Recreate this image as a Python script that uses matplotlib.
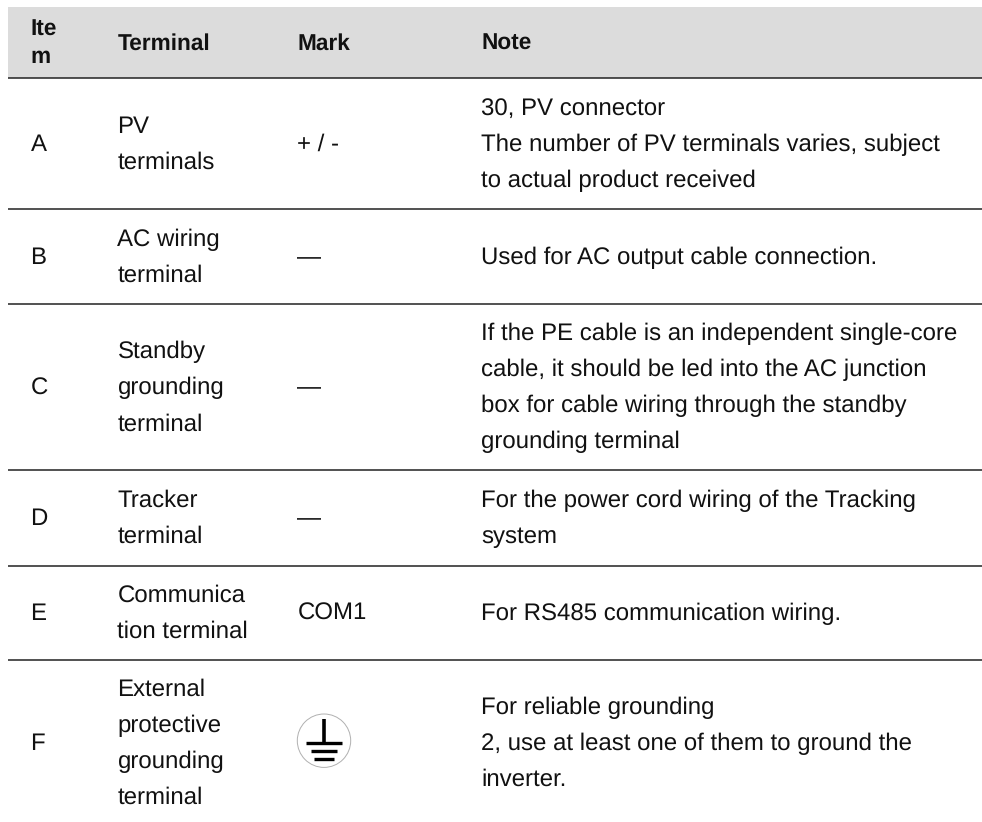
import matplotlib
matplotlib.use("Agg")
import matplotlib.pyplot as plt
from matplotlib.patches import Rectangle, Circle

W, H = 982, 822

headers = ["Ite\nm", "Terminal", "Mark", "Note"]
items = ["A", "B", "C", "D", "E", "F"]
terminals = [
    ["PV", "terminals"],
    ["AC wiring", "terminal"],
    ["Standby", "grounding", "terminal"],
    ["Tracker", "terminal"],
    ["Communica", "tion terminal"],
    ["External", "protective", "grounding", "terminal"],
]
marks = ["+ / -", "—", "—", "—", "COM1", ""]
notes = [
    ["30, PV connector", "The number of PV terminals varies, subject", "to actual product received"],
    ["Used for AC output cable connection."],
    ["If the PE cable is an independent single-core", "cable, it should be led into the AC junction",
     "box for cable wiring through the standby", "grounding terminal"],
    ["For the power cord wiring of the Tracking", "system"],
    ["For RS485 communication wiring."],
    ["For reliable grounding", "2, use at least one of them to ground the", "inverter."],
]
# last row runs off the bottom of the picture, so no rule is drawn for it
row_lines = [78, 209, 304, 470, 565.5, 659.5, 825]
col_x = [30.5, 117.5, 297.5, 481.5]
line_h = 36
base_off = 7.3

plt.rcParams['font.family'] = ['Liberation Sans', 'DejaVu Sans']
plt.rcParams['text.hinting'] = 'no_hinting'
fig = plt.figure(figsize=(W / 100, H / 100), dpi=100)
ax = fig.add_axes([0, 0, 1, 1])
ax.set_xlim(0, W)
ax.set_ylim(H, 0)
ax.axis('off')

FS = 17.25
FS_BOLD = 16.3
TXT = '#111111'

# header band
ax.add_patch(Rectangle((8, 7), W - 8, row_lines[0] - 7, facecolor='#dcdcdc', edgecolor='none'))
ax.text(col_x[0], 36, "Ite", fontsize=FS_BOLD, fontweight='bold', va='baseline', ha='left', color=TXT)
ax.text(col_x[0], 63, "m", fontsize=FS_BOLD, fontweight='bold', va='baseline', ha='left', color=TXT)
for x, h in zip(col_x[1:], headers[1:]):
    ax.text(x, 49.3, h, fontsize=FS_BOLD, fontweight='bold', va='baseline', ha='left', color=TXT)

for y in row_lines[:-1]:
    ax.plot([8, W], [y, y], color='#222222', lw=1.1, solid_capstyle='butt')


def put_lines(x, yc, lines):
    y0 = yc + base_off - line_h * (len(lines) - 1) / 2
    for i, s in enumerate(lines):
        ax.text(x, y0 + i * line_h, s, fontsize=FS, va='baseline', ha='left', color=TXT)


for i in range(len(items)):
    yc = (row_lines[i] + row_lines[i + 1]) / 2
    put_lines(col_x[0], yc, [items[i]])
    put_lines(col_x[1], yc, terminals[i])
    if marks[i]:
        put_lines(col_x[2], yc, [marks[i]])
    put_lines(col_x[3], yc, notes[i])

# ground symbol
cx, cy = 324, 740.7
ax.add_patch(Circle((cx, cy), 26.7, facecolor='white', edgecolor='#b0b0b0', lw=0.7))
ax.plot([cx, cx], [cy - 21.7, cy + 2], color='black', lw=2.6, solid_capstyle='butt')
ax.plot([cx - 18.3, cx + 18.3], [cy + 2, cy + 2], color='black', lw=2.4, solid_capstyle='butt')
ax.plot([cx - 13.3, cx + 13.3], [cy + 10.6, cy + 10.6], color='black', lw=2.4, solid_capstyle='butt')
ax.plot([cx - 10, cx + 10], [cy + 18.6, cy + 18.6], color='black', lw=2.4, solid_capstyle='butt')

fig.savefig("out.png", dpi=100)
